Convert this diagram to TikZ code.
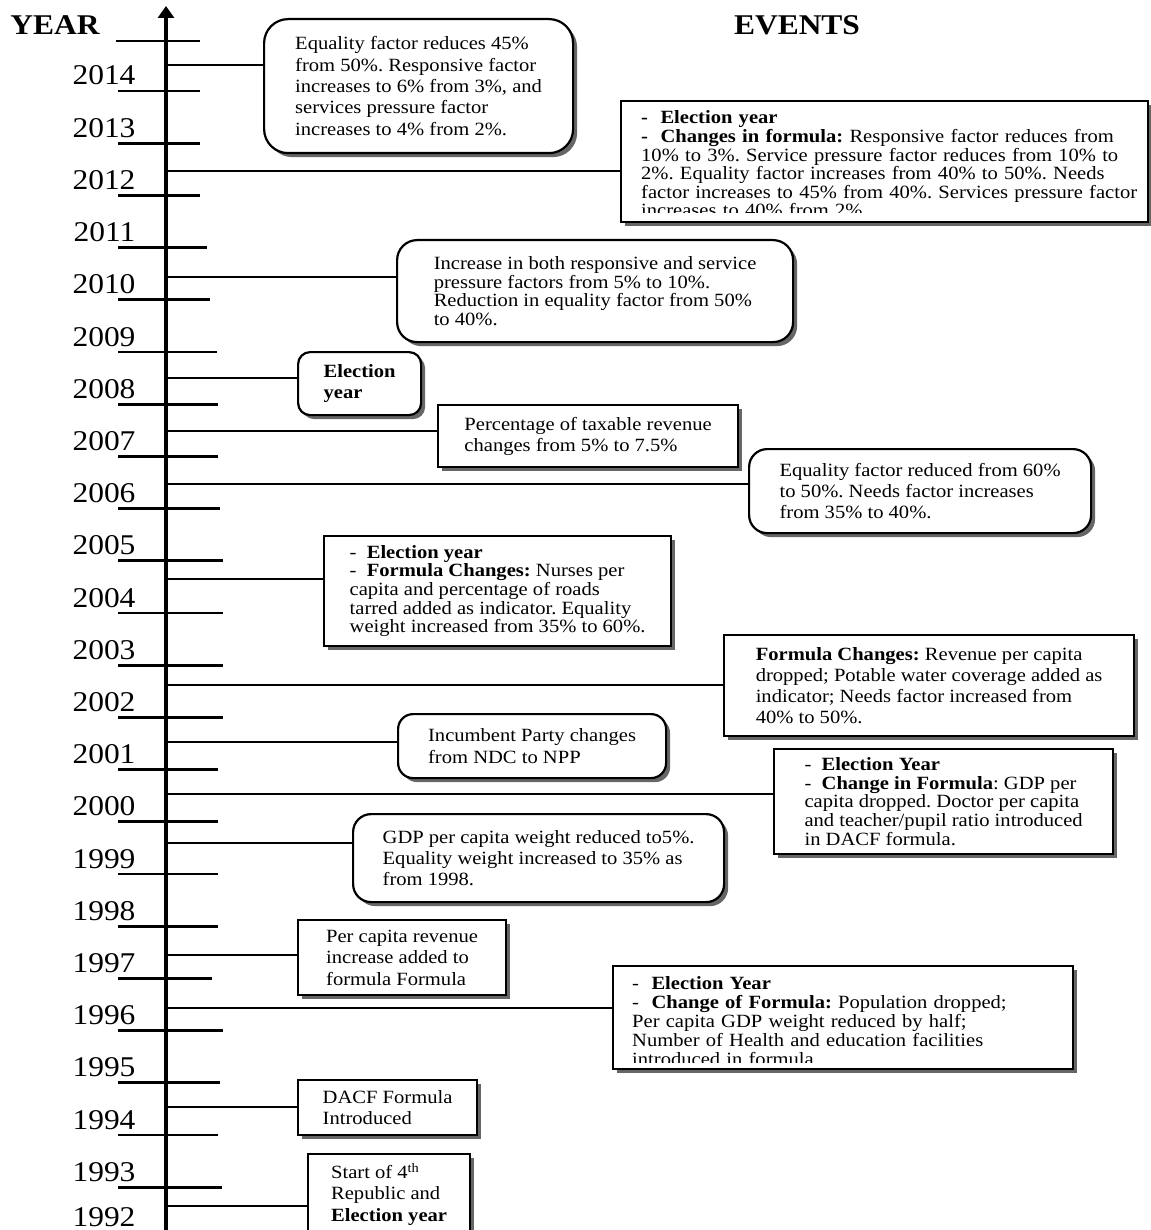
\documentclass[tikz,border=0pt]{standalone}
\usepackage{fontspec}
\setmainfont[FakeStretch=1.1]{Liberation Serif}
\usetikzlibrary{shadows,arrows.meta}
\frenchspacing

\begin{document}
\begin{tikzpicture}[x=1pt,y=-1pt,
        evbox/.style = {draw, fill=white, line width=2.2pt, anchor=north west, align=left,
            font=\fontsize{18.7}{21.3}\selectfont,
            drop shadow={shadow xshift=4pt, shadow yshift=-4pt, fill=black!60, opacity=1}},
        evround/.style = {evbox, rounded corners=#1},
        evtight/.style = {font=\fontsize{18.7}{18.6}\selectfont},
        evtext/.style = {anchor=base west, inner sep=0pt, align=left, text width=#1,
            font=\fontsize{18.7}{18.6}\selectfont},
        yearlabel/.style = {anchor=base east, font=\fontsize{28.6}{30}\selectfont},
        heading/.style = {font=\bfseries\fontsize{28.6}{30}\selectfont},
        yeartick/.style = {line width=2.8pt},
        axisline/.style = {line width=4pt, -{Triangle[length=12pt,width=16pt]}},
        conn/.style = {line width=1.3pt}]
        \useasboundingbox (0,0) rectangle (1150,1230);

        \node[heading] (hyear) at (55,25) {YEAR};
        \node[heading] (hevents) at (797,25) {EVENTS};

        % time axis with the years
        \coordinate (axbot) at (166,1232);
        \coordinate (axtop) at (166,6);
        \draw[yeartick] (116,41) -- (200,41);
        \foreach \yr/\rx [count=\i from 0] in {2014/200, 2013/200, 2012/200, 2011/207,
                2010/210, 2009/217, 2008/218, 2007/218, 2006/220, 2005/223, 2004/223,
                2003/223, 2002/223, 2001/218, 2000/218, 1999/218, 1998/218, 1997/212,
                1996/223, 1995/220, 1994/218, 1993/222}{
            \draw[yeartick] (118,{91+52.2*\i}) -- (\rx,{91+52.2*\i});
            \node[yearlabel] (y\yr) at (139,{85+52.2*\i}) {\yr};
        }
        \node[yearlabel] (y1992) at (139,1226) {1992};
        \draw[axisline] (axbot) -- (axtop);

        % events
        \node[evround=24pt, minimum width=309pt, minimum height=134pt] (e2014) at (263,18)
            {Equality factor reduces 45\%\\ from 50\%. Responsive factor\\
             increases to 6\% from 3\%, and\\ services pressure factor\\
             increases to 4\% from 2\%.};
        \node[evbox, minimum width=527pt, minimum height=121pt] (e2012) at (620,100) {};
        \begin{scope}
            \clip (e2012.north west) rectangle ([yshift=11pt]e2012.south east);
            \node[evtext=500pt] (t2012) at (641,124)
                {\textbf{-\ \ Election year}\\
                 \textbf{-\ \ Changes in formula:} Responsive factor reduces from\\
                 10\% to 3\%. Service pressure factor reduces from 10\% to\\
                 2\%. Equality factor increases from 40\% to 50\%. Needs\\
                 factor increases to 45\% from 40\%. Services pressure factor\\
                 increases to 40\% from 2\%.};
        \end{scope}
        \node[evround=20pt, evtight, minimum width=396pt, minimum height=102pt] (e2010) at (396,239)
            {Increase in both responsive and service\\ pressure factors from 5\% to 10\%.\\
             Reduction in equality factor from 50\%\\ to 40\%.};
        \node[evround=12pt, minimum width=123pt, minimum height=63pt] (e2008) at (297,351)
            {\textbf{Election}\\ \textbf{year}};
        \node[evbox, minimum width=300pt, minimum height=62pt] (e2007) at (437,404)
            {Percentage of taxable revenue\\ changes from 5\% to 7.5\%};
        \node[evround=18pt, minimum width=342pt, minimum height=84pt] (e2006) at (748,448)
            {Equality factor reduced from 60\%\\ to 50\%. Needs factor increases\\
             from 35\% to 40\%.};
        \node[evbox, evtight, minimum width=347pt, minimum height=110pt] (e2004) at (323,535)
            {-\ \ \textbf{Election year}\\ -\ \ \textbf{Formula Changes:} Nurses per\\
             capita and percentage of roads\\ tarred added as indicator. Equality\\
             weight increased from 35\% to 60\%.};
        \node[evbox, minimum width=410pt, minimum height=101pt] (e2002) at (723,634)
            {\textbf{Formula Changes:} Revenue per capita\\ dropped; Potable water coverage added as\\
             indicator; Needs factor increased from\\ 40\% to 50\%.};
        \node[evround=15pt, minimum width=268pt, minimum height=64pt] (e2001) at (397,713)
            {Incumbent Party changes\\ from NDC to NPP};
        \node[evbox, evtight, minimum width=339pt, minimum height=105pt] (e2000) at (773,748)
            {-\ \ \textbf{Election Year}\\ -\ \ \textbf{Change in Formula}: GDP per\\
             capita dropped. Doctor per capita\\ and teacher/pupil ratio introduced\\
             in DACF formula.};
        \node[evround=18pt, minimum width=371pt, minimum height=88pt] (e1999) at (352,813)
            {GDP per capita weight reduced to5\%.\\ Equality weight increased to 35\% as\\
             from 1998.};
        \node[evbox, minimum width=208pt, minimum height=75pt] (e1997) at (297,919)
            {Per capita revenue\\ increase added to\\ formula Formula};
        \node[evbox, minimum width=460pt, minimum height=103pt] (e1996) at (612,965) {};
        \begin{scope}
            \clip (e1996.north west) rectangle ([yshift=8pt]e1996.south east);
            \node[evtext=430pt, font=\fontsize{18.7}{19}\selectfont] (t1996) at (632,989)
                {-\ \ \textbf{Election Year}\\
                 -\ \ \textbf{Change of Formula:} Population dropped;\\
                 Per capita GDP weight reduced by half;\\
                 Number of Health and education facilities\\
                 introduced in formula.};
        \end{scope}
        \node[evbox, minimum width=179pt, minimum height=55pt] (e1994) at (297,1079)
            {DACF Formula\\ Introduced};
        \node[evbox, minimum width=162pt, minimum height=80pt] (e1993) at (307,1153)
            {Start of 4\textsuperscript{th}\\ Republic and\\ \textbf{Election year}};

        % links from the axis to the events
        \foreach \yr/\y in {2014/65, 2012/171, 2010/277, 2008/378, 2007/431, 2006/484,
                2004/579, 2002/685, 2001/742, 2000/794, 1999/843, 1997/955, 1996/1008,
                1994/1107, 1993/1206}{
            \coordinate (a\yr) at (166,\y);
            \draw[conn] (a\yr) -- (a\yr -| e\yr.west);
        }
\end{tikzpicture}
\end{document}
